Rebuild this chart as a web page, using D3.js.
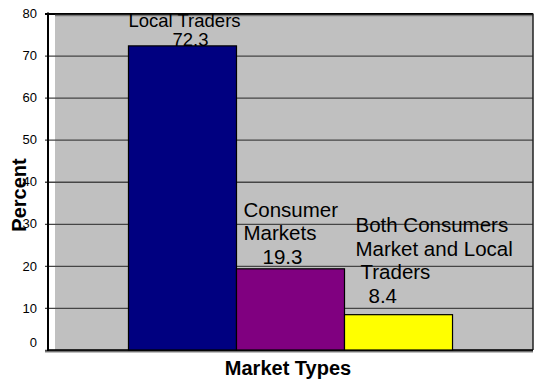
<!DOCTYPE html>
<html>
<head>
<meta http-equiv="Content-Type" content="text/html;charset=utf-8" />
<style type="text/css">
  body { margin: 0; background: #fff; }
  text { font-family: "Liberation Sans", Arial, sans-serif; fill: #000; }
</style>
</head>
<body>
<div id="svgContainer"></div>
<script src="https://d3js.org/d3.v7.min.js"></script>
<script type="text/javascript">
  // data
  var categories = ["Local Traders", "Consumer Markets", "Both Consumers Market and Local Traders"];
  var values = [72.3, 19.3, 8.4];
  var labelLines = [["Local Traders"], ["Consumer", "Markets"], ["Both Consumers", "Market and Local", "Traders"]];
  var barColors = ["#000080", "#800080", "#ffff00"];
  var yTicks = [0, 10, 20, 30, 40, 50, 60, 70, 80];

  var w = 535, h = 379;
  // note: "top" is reserved on window, so use pl/pr/pt/pb
  var pl = 48, pr = 533, pt = 13.5, pb = 350;

  var svg = d3.select("#svgContainer").append("svg")
    .attr("width", w).attr("height", h);

  var x = d3.scaleBand().domain(categories).range([pl, pr])
    .paddingInner(0).paddingOuter(0.745);
  var y = d3.scaleLinear().domain([0, 80]).range([pb, pt]);

  // plot area
  svg.append("rect").attr("x", pl + 7).attr("y", pt)
    .attr("width", pr - pl - 7).attr("height", pb - pt)
    .attr("fill", "#c0c0c0");
  svg.append("rect").attr("x", pl - 3).attr("y", pb)
    .attr("width", pr - pl + 3).attr("height", 2.5).attr("fill", "#808080");

  // gridlines + axis
  var yAxis = d3.axisLeft(y).tickValues(yTicks).tickSize(pr - pl + 3).tickPadding(8);
  var ga = svg.append("g").attr("transform", "translate(" + pr + ",0)").call(yAxis);
  ga.select(".domain").remove();
  ga.selectAll(".tick line").attr("stroke", "#454545").attr("stroke-width", 1.3);
  ga.selectAll(".tick text").style("font-size", "13px").attr("fill", "#222");
  ga.selectAll(".tick").filter(function (d) { return d === 0; })
    .select("text").attr("dy", "-0.3em");
  ga.selectAll(".tick").filter(function (d) { return d === 80; })
    .select("line").attr("stroke", "#000").attr("stroke-width", 1.8);

  svg.append("line").attr("x1", pl + 7).attr("x2", pr).attr("y1", pt + 2).attr("y2", pt + 2)
    .attr("stroke", "#777").attr("stroke-width", 1.5);
  svg.append("line").attr("x1", pr).attr("x2", pr).attr("y1", pt).attr("y2", pb)
    .attr("stroke", "#222").attr("stroke-width", 1.5);
  svg.append("line").attr("x1", pl).attr("x2", pl).attr("y1", pt - 1).attr("y2", pb + 1)
    .attr("stroke", "#000").attr("stroke-width", 2);
  svg.append("line").attr("x1", pl).attr("x2", pr).attr("y1", pb).attr("y2", pb)
    .attr("stroke", "#000").attr("stroke-width", 1.5);

  // bars
  svg.selectAll("rect.bar")
    .data(categories)
    .enter()
    .append("rect")
    .attr("class", "bar")
    .attr("x", function (d) { return x(d); })
    .attr("y", function (d, i) { return y(values[i]); })
    .attr("width", x.bandwidth())
    .attr("height", function (d, i) { return y(0) - y(values[i]); })
    .attr("fill", function (d, i) { return barColors[i]; })
    .attr("stroke", "#000")
    .attr("stroke-width", 1.2);

  // data labels
  var labelFont = [18.5, 20.5, 20.5];
  var lineGap = [19, 23.5, 23.7];
  var textIndent = [0, 7, 11];
  var numIndent = [44, 26, 24];
  var lift = [6, 5, 11.5];
  categories.forEach(function (c, i) {
    var lines = labelLines[i];
    var numBase = y(values[i]) - lift[i];
    var firstBase = numBase - lines.length * lineGap[i];
    if (firstBase < 27) { numBase += 27 - firstBase; firstBase = 27; }
    var x0 = x(c) + textIndent[i];
    lines.forEach(function (t, j) {
      svg.append("text").attr("x", x0 + (j === 2 ? 5 : 0)).attr("y", firstBase + j * lineGap[i])
        .style("font-size", labelFont[i] + "px").text(t);
    });
    svg.append("text").attr("x", x(c) + numIndent[i]).attr("y", numBase)
      .style("font-size", labelFont[i] + "px").text(values[i]);
  });

  // axis titles
  svg.append("text").attr("transform", "translate(26,195) rotate(-90)")
    .attr("text-anchor", "middle").style("font-size", "20px").style("font-weight", "bold")
    .text("Percent");
  svg.append("text").attr("x", 288).attr("y", 375)
    .attr("text-anchor", "middle").style("font-size", "20px").style("font-weight", "bold")
    .text("Market Types");
</script>
</body>
</html>
